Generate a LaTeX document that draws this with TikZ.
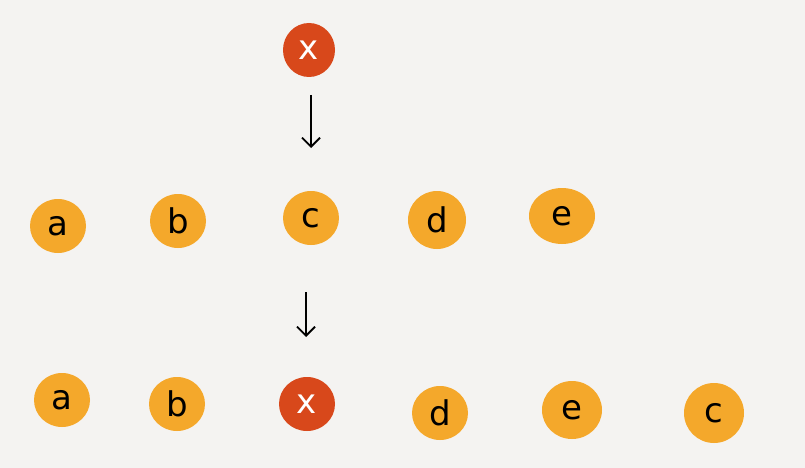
\documentclass[tikz,border=0pt]{standalone}
\usepackage{fontspec}
\setmainfont{DejaVu Sans}
\definecolor{bg}{HTML}{F4F3F1}
\definecolor{yel}{HTML}{F4A82B}
\definecolor{red}{HTML}{D8481B}
\tikzset{
  ball/.style={fill=yel, draw=none, ellipse, minimum width=56pt, minimum height=54pt, inner sep=0pt, font=\fontsize{34}{36}\selectfont},
  hot/.style={ball, fill=red, text=white},
  arr/.style={-{Straight Barb[length=9pt,width=18pt]}, line width=1.8pt, black}
}
\usetikzlibrary{shapes.geometric,arrows.meta}
\begin{document}
\begin{tikzpicture}[x=1pt,y=-1pt]
\fill[bg] (0,0) rectangle (805,468);
\useasboundingbox (0,0) rectangle (805,468);
\node[hot, minimum width=52pt, minimum height=54pt] (x1) at (309,50) {x};
\node[ball] (a1) at (58,226) {a};
\node[ball] (b1) at (178,221) {b};
\node[ball] (c1) at (311,218) {c};
\node[ball, minimum width=58pt, minimum height=58pt] (d1) at (437,220) {d};
\node[ball, minimum width=66pt, minimum height=56pt] (e1) at (562,216) {e};
\node[ball] (a2) at (62,400) {a};
\node[ball] (b2) at (177,404) {b};
\node[hot] (x2) at (307,404) {x};
\node[ball] (d2) at (440,413) {d};
\node[ball, minimum width=60pt, minimum height=58pt] (e2) at (572,410) {e};
\node[ball, minimum width=60pt, minimum height=60pt] (c2) at (714,413) {c};
\coordinate (t1) at (311,95);
\coordinate (h1) at (311,148);
\coordinate (t2) at (306,292);
\coordinate (h2) at (306,337);
\draw[arr] (t1) -- (h1);
\draw[arr] (t2) -- (h2);
\end{tikzpicture}
\end{document}
